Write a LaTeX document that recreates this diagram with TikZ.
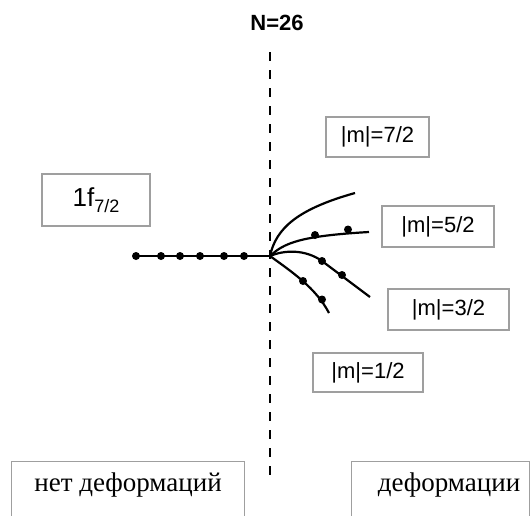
\documentclass[tikz,border=0pt]{standalone}
\usepackage{fontspec}
\setmainfont{Liberation Sans}
\newfontfamily\rusfont{Liberation Serif}
\begin{document}
\begin{tikzpicture}[x=1pt,y=-1pt,
  lbox/.style={draw=gray!75, line width=1.1pt, inner sep=0pt, font=\fontsize{22}{25}\selectfont},
  curve/.style={line width=2.2pt},
  dotmark/.style={circle, fill=black, inner sep=0pt, minimum size=8pt},
  rus/.style={font=\rusfont\fontsize{27}{31}\selectfont, inner sep=0pt}]
\useasboundingbox (0,0) rectangle (531,515);
\clip (0,0) rectangle (531,515);
% title
\node[font=\bfseries\fontsize{22}{25}\selectfont] (title) at (277,23) {N=26};
% dashed line
\coordinate (dtop) at (270,52);
\coordinate (dbot) at (270,478);
\draw[line width=2.2pt, dash pattern=on 9pt off 9pt] (dtop) -- (dbot);
% boxes
\node[lbox, minimum width=103pt, minimum height=40pt] (m72) at (377.5,137) {|m|=7/2};
\node[lbox, minimum width=108pt, minimum height=52pt] (f72) at (96,200) {\fontsize{26}{28}\selectfont 1f\raisebox{-6pt}{\fontsize{18}{20}\selectfont 7/2}};
\node[lbox, minimum width=112pt, minimum height=41pt] (m52) at (438,226.5) {|m|=5/2};
\node[lbox, minimum width=121pt, minimum height=41pt] (m32) at (448.5,309.5) {|m|=3/2};
\node[lbox, minimum width=110pt, minimum height=39pt] (m12) at (368,372.5) {|m|=1/2};
\node[lbox, anchor=north west, minimum width=233pt, minimum height=80pt] (nobox) at (11,461) {};
\node[lbox, anchor=north west, minimum width=178pt, minimum height=80pt] (dbox) at (351,461) {};
\node[rus] (notext) at (128,485) {нет деформаций};
\node[rus] (dtext) at (449,485) {деформации};
% level lines
\coordinate (O) at (270,256);
\coordinate (L) at (136,256);
\draw[curve] (L) -- (O);
\foreach \x [count=\i] in {136,161,180,200,224,244}
  \node[dotmark] (p\i) at (\x,256) {};
% branches
\coordinate (e72) at (355,193);
\coordinate (e52) at (369,232);
\coordinate (e32) at (370,297);
\coordinate (k32) at (322,261);
\coordinate (e12) at (329,313);
\draw[curve] (O) .. controls (276,228) and (298,209) .. (e72);
\draw[curve] (O) .. controls (284,243) and (300,236) .. (e52);
\draw[curve] (O) .. controls (284,250) and (305,249) .. (k32) -- (e32);
\draw[curve] (O) .. controls (292,272) and (316,288) .. (e12);
\node[dotmark] (a1) at (315,235) {};
\node[dotmark] (a2) at (348,229.5) {};
\node[dotmark] (b1) at (322,261) {};
\node[dotmark] (b2) at (342,275) {};
\node[dotmark] (c1) at (303,281) {};
\node[dotmark] (c2) at (322,299.5) {};
\end{tikzpicture}
\end{document}
